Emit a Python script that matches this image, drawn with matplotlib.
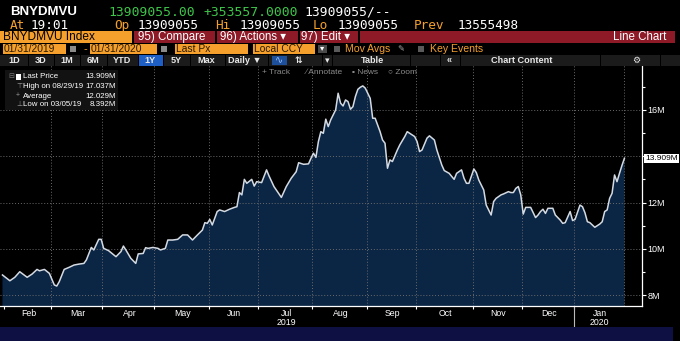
#!/usr/bin/env python3

import numpy
import matplotlib
matplotlib.use("Agg")
import matplotlib.pyplot as plt
from matplotlib.patches import Rectangle
from matplotlib.transforms import blended_transform_factory

## DATA

# daily closes of the index, in millions
DATES = [
	"2019-01-31", "2019-02-05", "2019-02-07", "2019-02-11", "2019-02-14", "2019-02-19",
	"2019-02-21", "2019-02-22", "2019-02-26", "2019-02-28",
	"2019-03-04", "2019-03-05", "2019-03-06", "2019-03-08", "2019-03-12", "2019-03-14",
	"2019-03-18", "2019-03-20", "2019-03-21", "2019-03-25", "2019-03-26", "2019-03-28",
	"2019-03-29",
	"2019-04-01", "2019-04-03", "2019-04-08", "2019-04-10", "2019-04-11", "2019-04-12",
	"2019-04-16", "2019-04-18", "2019-04-22", "2019-04-24", "2019-04-25", "2019-04-26",
	"2019-04-30",
	"2019-05-02", "2019-05-03", "2019-05-07", "2019-05-08", "2019-05-10", "2019-05-14",
	"2019-05-16", "2019-05-20", "2019-05-22", "2019-05-24", "2019-05-29", "2019-05-30",
	"2019-05-31",
	"2019-06-03", "2019-06-04", "2019-06-06", "2019-06-07", "2019-06-11", "2019-06-13",
	"2019-06-17", "2019-06-18", "2019-06-19", "2019-06-20", "2019-06-21", "2019-06-24",
	"2019-06-26", "2019-06-27", "2019-06-28",
	"2019-07-02", "2019-07-05", "2019-07-08", "2019-07-10", "2019-07-15", "2019-07-17",
	"2019-07-19", "2019-07-23", "2019-07-24", "2019-07-26", "2019-07-30", "2019-07-31",
	"2019-08-01", "2019-08-02", "2019-08-05", "2019-08-06", "2019-08-07", "2019-08-08",
	"2019-08-09", "2019-08-12", "2019-08-13", "2019-08-14", "2019-08-15", "2019-08-16",
	"2019-08-19", "2019-08-20", "2019-08-21", "2019-08-22", "2019-08-23", "2019-08-26",
	"2019-08-27", "2019-08-28", "2019-08-29", "2019-08-30",
	"2019-09-04", "2019-09-05", "2019-09-06", "2019-09-10", "2019-09-11", "2019-09-12",
	"2019-09-13", "2019-09-16", "2019-09-17", "2019-09-19", "2019-09-20", "2019-09-24",
	"2019-09-25", "2019-09-26", "2019-09-30",
	"2019-10-01", "2019-10-02", "2019-10-03", "2019-10-07", "2019-10-08", "2019-10-10",
	"2019-10-11", "2019-10-15", "2019-10-16", "2019-10-18", "2019-10-22", "2019-10-23",
	"2019-10-25", "2019-10-28", "2019-10-29", "2019-10-30",
	"2019-11-01", "2019-11-04", "2019-11-05", "2019-11-07", "2019-11-08", "2019-11-12",
	"2019-11-13", "2019-11-14", "2019-11-18", "2019-11-19", "2019-11-21", "2019-11-22",
	"2019-11-25", "2019-11-26", "2019-11-27", "2019-11-29",
	"2019-12-02", "2019-12-03", "2019-12-05", "2019-12-09", "2019-12-10", "2019-12-11",
	"2019-12-12", "2019-12-13", "2019-12-16", "2019-12-18", "2019-12-19", "2019-12-23",
	"2019-12-24", "2019-12-26", "2019-12-30", "2019-12-31",
	"2020-01-02", "2020-01-06", "2020-01-07", "2020-01-08", "2020-01-09", "2020-01-10",
	"2020-01-14", "2020-01-16", "2020-01-17", "2020-01-21", "2020-01-22", "2020-01-23",
	"2020-01-24", "2020-01-27", "2020-01-28", "2020-01-29", "2020-01-30", "2020-01-31",
]
VALUES = [
	8.87, 8.62, 8.77, 9.01, 8.77, 8.91,
	9.11, 9.05, 9.11, 8.94,
	8.44, 8.392, 8.58, 9.11, 9.20, 9.30,
	9.34, 9.37, 9.52, 10.06, 9.95, 10.41,
	10.41,
	10.02, 9.92, 9.66, 9.88, 10.12, 9.95,
	9.59, 9.37, 9.78, 9.80, 10.05, 10.02,
	10.06,
	10.02, 9.95, 10.02, 10.38, 10.38, 10.41,
	10.60, 10.60, 10.38, 10.60, 10.81, 11.13,
	11.10,
	11.27, 11.03, 11.61, 11.68, 11.61, 11.71,
	11.79, 11.82, 12.43, 12.33, 13.00, 12.83,
	13.00, 12.71, 12.90,
	12.86, 13.41, 13.15, 12.69, 12.22, 12.69,
	13.05, 13.33, 13.72, 13.65, 13.67, 13.91,
	14.13, 13.95, 14.63, 15.06, 14.99, 15.60,
	15.28, 15.57, 15.78, 16.00, 16.72, 16.29,
	16.17, 16.43, 16.36, 16.03, 16.14, 16.58,
	16.89, 16.98, 17.037, 16.94,
	16.50, 15.64, 15.64, 15.06, 14.70, 14.56,
	13.48, 13.84, 13.77, 14.27, 14.49, 14.85,
	15.06, 14.99, 14.85,
	14.63, 14.20, 14.27, 14.78, 14.88, 14.70,
	14.27, 13.62, 13.38, 13.26, 13.00, 13.26,
	13.41, 13.05, 12.83, 12.83,
	13.45, 13.29, 12.97, 12.54, 11.89, 11.46,
	12.04, 12.18, 12.33, 12.37, 12.47, 12.43,
	12.43, 12.61, 12.69, 12.33,
	11.50, 11.79, 11.79, 11.35, 11.46, 11.61,
	11.71, 11.53, 11.75, 11.75, 11.46, 11.24,
	11.10, 11.13, 11.61, 11.22,
	11.27, 11.89, 11.82, 11.56, 11.17, 11.13,
	10.93, 11.07, 11.17, 11.61, 11.68, 12.18,
	12.40, 13.19, 12.90, 13.26, 13.60, 13.909,
]

HOLIDAYS = [
	"2019-02-18", "2019-04-19", "2019-05-27", "2019-07-04", "2019-09-02",
	"2019-11-28", "2019-12-25", "2020-01-01", "2020-01-20",
]
MONTH_STARTS = [
	"2019-02-01", "2019-03-01", "2019-04-01", "2019-05-01", "2019-06-01", "2019-07-01",
	"2019-08-01", "2019-09-01", "2019-10-01", "2019-11-01", "2019-12-01", "2020-01-01",
	"2020-02-01",
]
MONTH_LABELS = ["Feb", "Mar", "Apr", "May", "Jun", "Jul", "Aug", "Sep", "Oct", "Nov", "Dec", "Jan"]

LAST = 13.909
HIGH = 17.037
AVERAGE = 12.029
LOW = 8.392

## COLOURS

BG = "#000000"
ORANGE = "#f5a02c"
RED = "#8e1a28"
GREEN = "#3ec64a"
BAR = "#1b1b1b"
FILL = "#0b2545"
LINE = "#d4dae2"
GRID = "#6a6a6a"

W, H = 680, 341
SANS = "Liberation Sans"

## UTIL

def _tday(date):
	# trading-day index counted from the first close
	return numpy.busday_count("2019-01-31", date, holidays = HOLIDAYS)

def _fx(x):
	return x / W

def _fy(y):
	return 1 - y / H

def _box(fig, x0, y0, x1, y1, color):
	fig.patches.append(Rectangle(
		(_fx(x0), _fy(y1)), (x1 - x0) / W, (y1 - y0) / H,
		transform = fig.transFigure, facecolor = color, edgecolor = "none"
	))

def _text(fig, x, y, s, color = "white", size = 8, ha = "left", family = SANS, **kw):
	fig.text(_fx(x), _fy(y), s, color = color, fontsize = size, ha = ha, va = "center",
		family = [family, "DejaVu Sans"], **kw)

## HEADER

def draw_header(fig):
	mono = "DejaVu Sans Mono"
	_text(fig, 10, 12, "BNYDMVU", size = 9.5, family = SANS, weight = "bold")
	_text(fig, 108, 12, "13909055.00", color = GREEN, size = 9.4, family = mono)
	_text(fig, 203, 12, "+353557.0000", color = GREEN, size = 9.4, family = mono)
	_text(fig, 304, 12, "13909055/--", size = 9.4, family = mono)

	_text(fig, 10, 25.5, "At", color = ORANGE, size = 9.2, family = mono)
	_text(fig, 31, 25.5, "19:01", size = 9.2, family = mono)
	for label, value, xl, xv in [
		("Op", "13909055", 114, 138),
		("Hi", "13909055", 215, 240),
		("Lo", "13909055", 313, 338),
		("Prev", "13555498", 414, 458),
	]:
		_text(fig, xl, 25.5, label, color = ORANGE, size = 9.2, family = mono)
		_text(fig, xv, 25.5, value, size = 9.2, family = mono)

	# security / menu bar
	_box(fig, 0, 31, 132, 43, ORANGE)
	_text(fig, 3, 37, "BNYDMVU Index", color = "black", size = 8.6)
	_box(fig, 134, 31, 675, 43, RED)
	for x in [215, 298, 358]:
		_box(fig, x, 31, x + 1.5, 43, "black")
	_text(fig, 138, 37, "95) Compare", size = 8.3)
	_text(fig, 220, 37, "96) Actions \u25be", size = 8.3)
	_text(fig, 301, 37, "97) Edit \u25be", size = 8.3)
	_text(fig, 666, 37, "Line Chart", size = 8.3, ha = "right")

	# date range row
	for x0, x1, label in [
		(3, 66, "01/31/2019"), (90, 157, "01/31/2020"),
		(175, 248, "Last Px"), (253, 315, "Local CCY"),
	]:
		_box(fig, x0, 44, x1, 54, ORANGE)
		_text(fig, x0 + 1, 49, label, color = "#2a1a00", size = 7.4)
	for x in [70, 161]:
		_box(fig, x, 46, x + 6, 52, "#8a8a8a")
	_text(fig, 83, 49, "-", color = ORANGE, size = 8)
	_box(fig, 318, 45, 327, 53, "#4a4a4a")
	_text(fig, 322.5, 49, "\u25be", size = 6, ha = "center")
	_box(fig, 334, 46, 340, 52, "#5a5a5a")
	_text(fig, 345, 49, "Mov Avgs", color = ORANGE, size = 7.6)
	_text(fig, 397, 49, "\u270e", color = "#aaaaaa", size = 6, family = "DejaVu Sans")
	_box(fig, 418, 46, 424, 52, "#5a5a5a")
	_text(fig, 430, 49, "Key Events", color = ORANGE, size = 7.6)

	# period buttons
	_box(fig, 0, 55, 680, 66, BAR)
	_box(fig, 138, 55, 163, 66, "#1d5fc4")
	_box(fig, 272, 56, 287, 65, "#1d4f9a")
	for x in [28, 54, 80, 107, 138, 163, 190, 225, 268, 322, 332, 410, 440, 460, 600, 660]:
		_box(fig, x, 55, x + 1, 66, "#000000")
	for x, label in [
		(14, "1D"), (41, "3D"), (67, "1M"), (93, "6M"), (122, "YTD"), (150, "1Y"),
		(176, "5Y"), (206, "Max"), (245, "Daily \u25bc"), (298, "\u21c5"), (327, "\u25be"),
		(372, "Table"), (449, "\u00ab"), (522, "Chart Content"), (636, "\u2699"),
	]:
		_text(fig, x, 60.5, label, color = "#e8e8e8", size = 6.6, ha = "center",
			weight = "bold")
	_text(fig, 279.5, 60.5, "\u223f", color = "#9fc3ff", size = 7, ha = "center")

	# chart toolbar
	for x, label in [(262, "+ Track"), (306, "\u2215 Annotate"), (352, "\u25aa News"), (388, "\u25cb Zoom")]:
		_text(fig, x, 72, label, color = "#8c8c8c", size = 6.0)

## LEGEND

def draw_legend(fig):
	_box(fig, 5, 70, 118, 110, "#121212")
	_box(fig, 16, 74, 21, 80, "white")
	rows = [
		("Last Price", LAST, 77),
		("High on 08/29/19", HIGH, 86.5),
		("Average", AVERAGE, 96),
		("Low on 03/05/19", LOW, 105),
	]
	for label, value, y in rows:
		_text(fig, 23, y, label, size = 5.7)
		_text(fig, 115.5, y, f"{value:.3f}M", size = 5.7, ha = "right")
	_text(fig, 8, 77, "\u229f", color = "#777777", size = 5)
	_text(fig, 16, 86.5, "\u22a4", color = "#999999", size = 5)
	_text(fig, 16, 96, "+", color = "#999999", size = 5)
	_text(fig, 16, 105, "\u22a5", color = "#999999", size = 5)

## CHART

def draw_chart(fig):
	xs = numpy.array([_tday(d) for d in DATES])
	ys = numpy.array(VALUES)
	ticks = [_tday(d) for d in MONTH_STARTS]

	ax = fig.add_axes([0, _fy(306), _fx(642), (306 - 65) / H])
	ax.set_facecolor(BG)
	ax.fill_between(xs, ys, 0, color = FILL, lw = 0, zorder = 1)
	ax.plot(xs, ys, color = LINE, lw = 1.1, zorder = 3)

	ax.set_xlim(-1, ticks[-1] + 0.5 + (642 - 628) / 2.49)
	ax.set_ylim(7.53, 17.94)

	for t in ticks[1:-1]:
		ax.axvline(t - 0.5, color = GRID, lw = 0.7, ls = (0, (1, 2)), zorder = 2)
	ax.axvline(xs[-1], color = GRID, lw = 0.7, ls = (0, (1, 2)), zorder = 2)
	for v in [8, 10, 12, 14, 16]:
		ax.axhline(v, color = GRID, lw = 0.7, ls = (0, (1, 2)), zorder = 2)

	for side in ["top", "left"]:
		ax.spines[side].set_visible(False)
	for side in ["right", "bottom"]:
		ax.spines[side].set_color("white")
		ax.spines[side].set_linewidth(0.9)

	ax.yaxis.tick_right()
	ax.set_yticks([8, 10, 12, 16])
	ax.set_yticklabels(["8M", "10M", "12M", "16M"], family = SANS)
	ax.set_yticks([9, 11, 13, 14, 15, 17], minor = True)
	ax.tick_params(axis = "y", which = "both", colors = "white", labelsize = 6.5,
		direction = "out", length = 3, width = 0.8, pad = 1)
	ax.tick_params(axis = "y", which = "minor", length = 2)

	ax.set_xticks([t - 0.5 for t in ticks[:-1]])
	ax.set_xticklabels([])
	ax.tick_params(axis = "x", colors = "white", direction = "out", length = 2, width = 0.8)

	# month names between the month boundaries
	trans = blended_transform_factory(ax.transData, fig.transFigure)
	for i, label in enumerate(MONTH_LABELS):
		mid = (ticks[i] + min(ticks[i + 1], xs[-1])) / 2
		ax.text(mid, _fy(313), label, color = "white", fontsize = 6.3, family = SANS,
			ha = "center", va = "center", transform = trans, clip_on = False)
	ax.text((ticks[5] + ticks[6]) / 2, _fy(322.5), "2019", color = "white", fontsize = 6.3,
		family = SANS, ha = "center", va = "center", transform = trans, clip_on = False)
	ax.text((ticks[11] + xs[-1]) / 2, _fy(322.5), "2020", color = "white", fontsize = 6.3,
		family = SANS, ha = "center", va = "center", transform = trans, clip_on = False)
	ax.plot([ticks[11] - 0.5] * 2, [_fy(306), _fy(327)], color = "#bbbbbb", lw = 0.8,
		transform = trans, clip_on = False)

	# last price tag on the axis
	ax.annotate(
		f"{LAST:.3f}M", xy = (1, LAST), xycoords = ("axes fraction", "data"),
		xytext = (2.5, 0), textcoords = "offset points", fontsize = 6.0, color = "black",
		family = SANS, va = "center", ha = "left",
		bbox = dict(boxstyle = "square,pad=0.12", facecolor = "white", edgecolor = "none"),
		annotation_clip = False
	)
	return ax

## MAIN

if __name__ == "__main__":
	fig = plt.figure(figsize = (W / 100, H / 100), dpi = 100, facecolor = BG)
	_box(fig, 0, 327, 673, 341, "#0e0f42")
	draw_chart(fig)
	draw_header(fig)
	draw_legend(fig)
	fig.savefig("out.png", dpi = 100, facecolor = BG)
